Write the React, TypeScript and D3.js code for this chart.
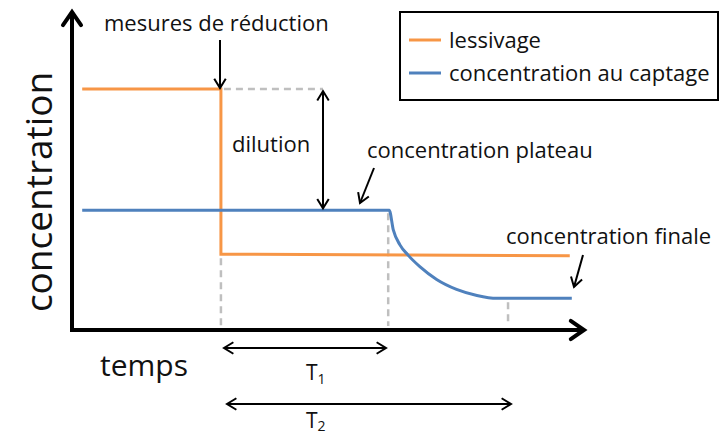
import React from "react";
import * as d3 from "d3";

// time (0..100) and concentration (0..100) in arbitrary units
const lessivage: [number, number][] = [
  [2, 75.3],
  [29.2, 75.3],
  [29.2, 23.7],
  [97.6, 23.2],
];

const captage: [number, number][] = [
  [2, 37.4],
  [62.2, 37.4],
  [63.0, 31.3],
  [64.3, 26.6],
  [65.9, 23.4],
  [68.2, 19.8],
  [71.5, 15.8],
  [75.4, 12.7],
  [79.4, 10.8],
  [83.3, 9.9],
  [98, 9.9],
];

const tReduction = 29.2;
const tPlateauEnd = 62;
const tFinal = 85.5;
const legendItems = ["lessivage", "concentration au captage"];
const colors = ["#F79646", "#4F81BD"];

const W = 728;
const H = 436;
const font = "'Open Sans', Lato, sans-serif";

export default function App() {
  const x = d3.scaleLinear().domain([0, 100]).range([72, 582]);
  const y = d3.scaleLinear().domain([0, 100]).range([330, 10]);

  const stepLine = d3
    .line<[number, number]>()
    .x((d) => x(d[0]))
    .y((d) => y(d[1]));
  const smoothLine = d3
    .line<[number, number]>()
    .x((d) => x(d[0]))
    .y((d) => y(d[1]))
    .curve(d3.curveMonotoneX);

  const gray = "#BFBFBF";
  const dash = "7,5";

  // open chevron arrowhead at (x2,y2) pointing from (x1,y1)
  const head = (x1: number, y1: number, x2: number, y2: number, len = 11, spread = 0.55) => {
    const a = Math.atan2(y2 - y1, x2 - x1);
    const p1 = [x2 - len * Math.cos(a - spread), y2 - len * Math.sin(a - spread)];
    const p2 = [x2 - len * Math.cos(a + spread), y2 - len * Math.sin(a + spread)];
    return `M${p1[0]},${p1[1]}L${x2},${y2}L${p2[0]},${p2[1]}`;
  };
  const arrow = (x1: number, y1: number, x2: number, y2: number, both = false) => (
    <g fill="none" stroke="#000" strokeWidth={2}>
      <line x1={x1} y1={y1} x2={x2} y2={y2} />
      <path d={head(x1, y1, x2, y2)} />
      {both && <path d={head(x2, y2, x1, y1)} />}
    </g>
  );

  const yHigh = y(lessivage[0][1]);
  const yPlateau = y(captage[0][1]);
  const yLow = y(lessivage[2][1]);
  const yFinal = y(9.9);
  const axisY = 330;

  return (
    <svg width={W} height={H} style={{ position: "absolute", left: 0, top: 0, background: "#fff" }} fontFamily={font}>
      {/* guide dashes */}
      <g stroke={gray} strokeWidth={2.5} strokeDasharray={dash} fill="none">
        <line x1={x(tReduction) + 3} y1={yHigh} x2={323} y2={yHigh} />
        <line x1={x(tReduction)} y1={yLow + 4} x2={x(tReduction)} y2={axisY - 4} />
        <line x1={x(tPlateauEnd)} y1={yPlateau + 3} x2={x(tPlateauEnd)} y2={axisY - 4} />
        <line x1={x(tFinal)} y1={yFinal + 4} x2={x(tFinal)} y2={axisY - 4} />
      </g>

      {/* series */}
      <path d={stepLine(lessivage) ?? ""} fill="none" stroke={colors[0]} strokeWidth={3} />
      <path d={smoothLine(captage) ?? ""} fill="none" stroke={colors[1]} strokeWidth={3} />

      {/* axes */}
      <g stroke="#000" strokeWidth={4} fill="none" strokeLinecap="round">
        <path d={`M72,12 L72,${axisY} L584,${axisY}`} strokeLinejoin="miter" strokeLinecap="butt" />
        <path d={head(72, 60, 72, 12, 16, 0.6)} strokeWidth={4} />
        <path d={head(540, axisY, 584, axisY, 16, 0.6)} strokeWidth={4} />
      </g>

      {/* annotation arrows */}
      {arrow(220, 40, 220, yHigh - 1)}
      {arrow(323, yHigh + 2, 323, yPlateau - 2, true)}
      {arrow(374, 168, 360, 203)}
      {arrow(583, 255, 574, 287)}
      {arrow(224, 348, 386, 348, true)}
      {arrow(227, 404, 511, 404, true)}

      {/* texts */}
      <g fill="#111" fontSize={22}>
        <text x={104} y={31}>mesures de réduction</text>
        <text x={232} y={152}>dilution</text>
        <text x={367} y={158}>concentration plateau</text>
        <text x={506} y={244}>concentration finale</text>
        <text x={100} y={376} fontSize={30}>temps</text>
        <text transform="translate(52,192) rotate(-90)" textAnchor="middle" fontSize={37}>
          concentration
        </text>
        <text x={306} y={380} fontSize={21}>
          T<tspan fontSize={14} dy={4}>1</tspan>
        </text>
        <text x={306} y={428} fontSize={21}>
          T<tspan fontSize={14} dy={3}>2</tspan>
        </text>
      </g>

      {/* legend */}
      <rect x={400} y={12} width={318} height={88} fill="#fff" stroke="#000" strokeWidth={2} />
      {legendItems.map((name, i) => (
        <g key={name}>
          <line x1={409} x2={441} y1={40 + i * 33} y2={40 + i * 33} stroke={colors[i]} strokeWidth={3} />
          <text x={449} y={48 + i * 33} fontSize={22} fill="#111">
            {name}
          </text>
        </g>
      ))}
    </svg>
  );
}
